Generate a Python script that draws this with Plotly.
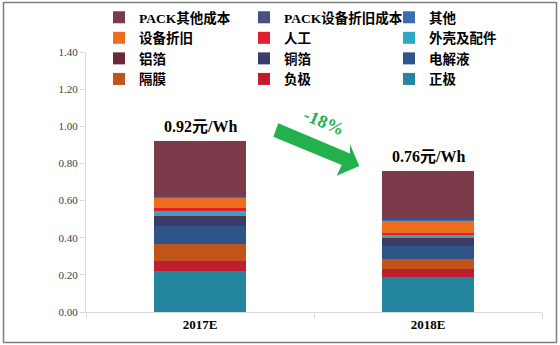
import plotly.graph_objects as go

categories = ["2017E", "2018E"]

# stacked from bottom to top
series_names = ["正极", "负极", "隔膜", "电解液", "铜箔", "铝箔",
                "外壳及配件", "人工", "设备折旧", "其他", "PACK设备折旧成本", "PACK其他成本"]
zhengji = [0.223, 0.186]
fuji = [0.052, 0.047]
gemo = [0.090, 0.053]
dianjieye = [0.098, 0.068]
tongbo = [0.052, 0.040]
lvbo = [0.004, 0.003]
waike = [0.025, 0.020]
rengong = [0.015, 0.011]
shebei = [0.058, 0.066]
qita = [0.005, 0.004]
pack_shebei = [0.008, 0.007]
pack_qita = [0.290, 0.255]
series_values = [zhengji, fuji, gemo, dianjieye, tongbo, lvbo, waike, rengong,
                 shebei, qita, pack_shebei, pack_qita]
series_colors = ["#23869E", "#BE1E2D", "#C0541A", "#2F5488", "#3A3D6A", "#6B2A3A",
                 "#2FA8C8", "#E0202A", "#ED6C1E", "#3C6EAF", "#4A4E80", "#7B3B4B"]

totals_labels = ["0.92元/Wh", "0.76元/Wh"]
change_label = "-18%"

FONT = "Liberation Serif, Noto Sans CJK SC, serif"

fig = go.Figure()
for name, vals, col in zip(series_names, series_values, series_colors):
    fig.add_trace(go.Bar(
        x=categories, y=vals, name=name,
        marker=dict(color=col, line=dict(width=0)),
    ))

totals = [sum(v[i] for v in series_values) for i in range(len(categories))]
for cat, tot, lab in zip(categories, totals, totals_labels):
    fig.add_annotation(x=cat, y=tot, text="<b>" + lab + "</b>", showarrow=False,
                       yanchor="bottom", yshift=4,
                       font=dict(family=FONT, size=16, color="#000000"))

# pixel helpers for decorative arrow (paper coords)
L, R, T, B = 86, 542, 52, 312
def px(x):
    return (x - L) / (R - L)
def py(y):
    return (B - y) / (B - T)

pts = [(278.3, 123.3), (350.0, 153.5), (350.0, 144.3), (359.3, 166.0),
       (336.7, 175.7), (341.7, 165.0), (273.3, 136.7)]
path = "M " + " L ".join(f"{px(a):.4f},{py(b):.4f}" for a, b in pts) + " Z"
fig.add_shape(type="path", path=path, xref="paper", yref="paper",
              fillcolor="#22B14C", line=dict(width=0))
fig.add_annotation(x=px(324), y=py(122), xref="paper", yref="paper",
                   text="<b>" + change_label + "</b>", showarrow=False, textangle=23,
                   yanchor="middle", xanchor="center",
                   font=dict(family=FONT, size=18, color="#22B14C"))

# outer frame
fig.add_shape(type="rect", xref="paper", yref="paper",
              x0=px(3.5), x1=px(556.5), y0=py(342.5), y1=py(2.5),
              line=dict(color="#7F7F7F", width=1.5), fillcolor="rgba(0,0,0,0)")

fig.update_layout(
    width=560, height=345,
    margin=dict(l=L, r=560 - R, t=T, b=345 - B, autoexpand=False),
    barmode="stack", bargap=0.6,
    paper_bgcolor="white", plot_bgcolor="white",
    font=dict(family=FONT, size=12, color="#000000"),
    showlegend=True,
    legend=dict(orientation="h", traceorder="reversed",
                xref="container", yref="container",
                x=99 / 560, y=1 - 2 / 345, xanchor="left", yanchor="top",
                entrywidth=100, entrywidthmode="pixels",
                itemwidth=30, font=dict(family=FONT, size=13.5, color="#000000", weight="bold"),
                bgcolor="rgba(0,0,0,0)", tracegroupgap=0),
    xaxis=dict(showgrid=False, showline=True, linecolor="#D9D9D9", linewidth=1,
               ticks="outside", tickson="boundaries", ticklen=5, tickcolor="#D9D9D9",
               tickfont=dict(family=FONT, size=13, color="#000000", weight="bold")),
    yaxis=dict(range=[0, 1.4], dtick=0.2, tickformat=".2f", showgrid=False,
               showline=True, linecolor="#D9D9D9", linewidth=1, zeroline=False,
               ticks="outside", ticklen=5, tickcolor="#D9D9D9",
               tickfont=dict(family=FONT, size=11, color="#404040")),
)

fig.write_html("out.html")
